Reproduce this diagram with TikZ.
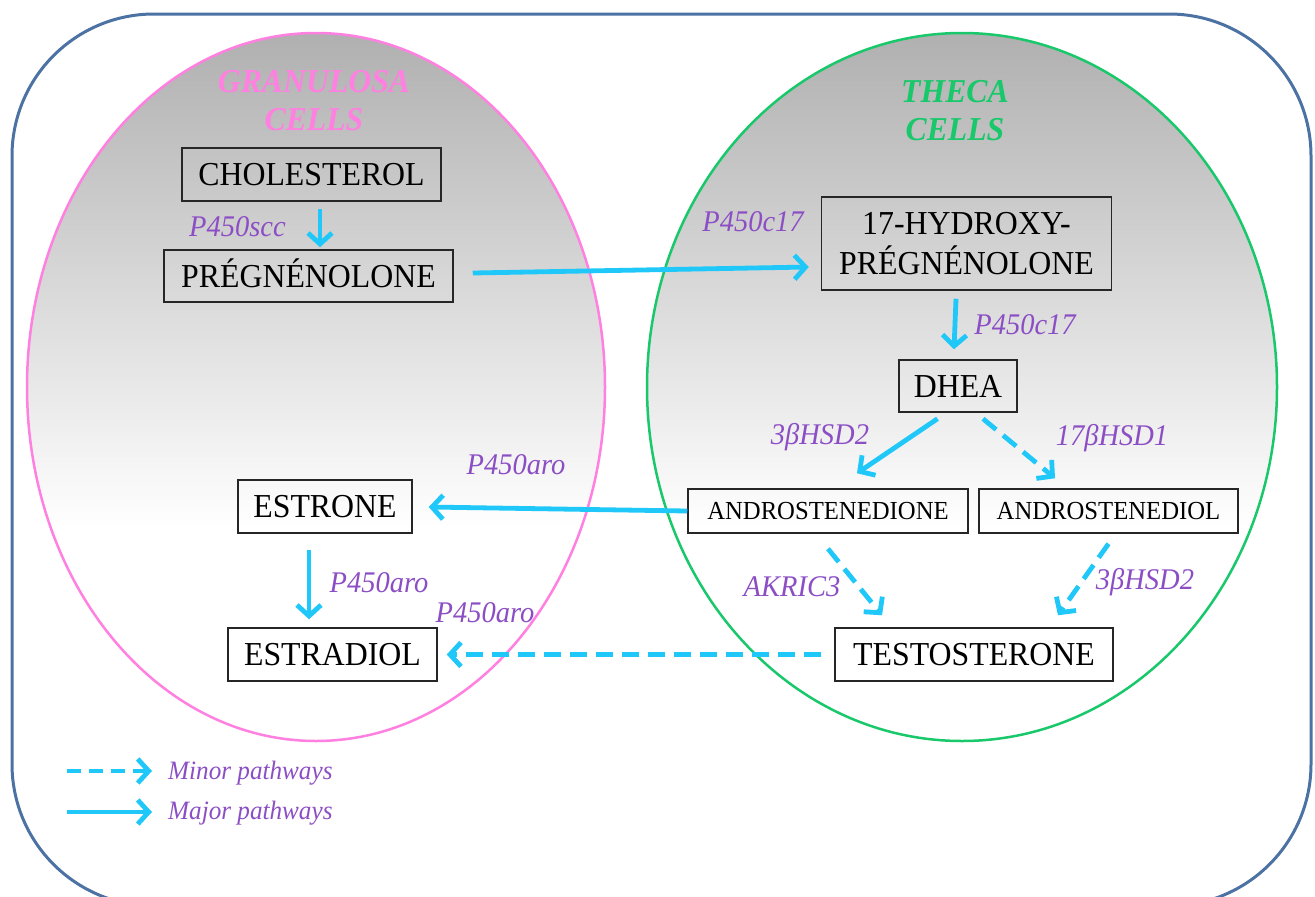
\documentclass[tikz,border=0pt]{standalone}
\usepackage{fontspec}
\setmainfont{Liberation Serif}[FakeStretch=0.95]
\usetikzlibrary{arrows.meta,calc}
\definecolor{cyanarr}{RGB}{31,200,248}
\definecolor{purplab}{RGB}{140,78,196}
\definecolor{pinkcell}{RGB}{255,128,224}
\definecolor{greencell}{RGB}{24,200,106}
\definecolor{framec}{RGB}{76,114,164}
\pgfdeclareverticalshading{cellgrad}{100bp}{rgb(0bp)=(1,1,1); rgb(40bp)=(1,1,1); rgb(75bp)=(0.69,0.69,0.69); rgb(100bp)=(0.69,0.69,0.69)}
\newcommand\BoxFnt{\fontsize{33.5}{40}\selectfont}
\newcommand\SmallBoxFnt{\fontsize{26}{30}\selectfont}
\newcommand\LabFnt{\fontsize{30}{34}\selectfont\itshape}
\newcommand\TitleFnt{\fontsize{33.4}{38}\selectfont\bfseries\itshape}
\newcommand\LegFnt{\fontsize{26.5}{30}\selectfont\itshape}
\begin{document}
\begin{tikzpicture}[x=1pt,y=-1pt,
  bigbox/.style={draw=black!85, line width=1.5pt, inner sep=0pt, font=\BoxFnt, text height=22pt, text depth=0pt},
  smallbox/.style={draw=black!85, line width=1.5pt, inner sep=0pt, font=\SmallBoxFnt, text height=17pt, text depth=0pt},
  lab/.style={text=purplab, font=\LabFnt, inner sep=0pt},
  major/.style={draw=cyanarr, line width=4.8pt, -{Straight Barb[length=11pt,width=24pt]}},
  minor/.style={major, dash pattern=on 17pt off 9pt},
  title/.style={font=\TitleFnt, align=center, inner sep=0pt}]
\clip (0,0) rectangle (1315,897);
% cells
\shade[shading=cellgrad] (316,387) ellipse [x radius=289pt, y radius=354pt];
\draw[pinkcell, line width=2.5pt] (316,387) ellipse [x radius=289pt, y radius=354pt];
\shade[shading=cellgrad] (962,387) ellipse [x radius=315pt, y radius=354pt];
\draw[greencell, line width=2.5pt] (962,387) ellipse [x radius=315pt, y radius=354pt];
% frame
\draw[framec, line width=3pt, rounded corners=142pt] (12,14) rectangle (1311,906);
% titles
\node[title, text=pinkcell] (tgran) at (314,101) {GRANULOSA\\CELLS};
\node[title, text=greencell] (ttheca) at (955,111) {THECA\\CELLS};
% boxes
\node[bigbox, minimum width=259pt, minimum height=53pt] (chol) at (311.5,174.5) {CHOLESTEROL};
\node[bigbox, minimum width=289pt, minimum height=52pt] (preg) at (308.5,276) {PRÉGNÉNOLONE};
\node[draw=black!85, line width=1.5pt, inner sep=0pt, font=\BoxFnt, align=center, minimum width=290pt, minimum height=93pt] (hyd) at (966.5,243.5) {17-HYDROXY-\\PRÉGNÉNOLONE};
\node[bigbox, minimum width=118pt, minimum height=52pt] (dhea) at (958,386) {DHEA};
\node[smallbox, minimum width=280pt, minimum height=44pt] (dione) at (828,511) {ANDROSTENEDIONE};
\node[smallbox, minimum width=259pt, minimum height=44pt] (diol) at (1108.5,511) {ANDROSTENEDIOL};
\node[bigbox, minimum width=278pt, minimum height=53pt] (testo) at (974,654.5) {TESTOSTERONE};
\node[bigbox, minimum width=174pt, minimum height=53pt] (estrone) at (325,506.5) {ESTRONE};
\node[bigbox, minimum width=209pt, minimum height=53pt] (estradiol) at (332.5,654.5) {ESTRADIOL};
% arrows
\draw[major] ($(chol.south)+(8.5,7)$) -- ($(preg.north)+(11.5,-2)$);
\draw[major] ($(preg.east)+(19,-3)$) -- ($(hyd.west)+(-12,23.5)$);
\draw[major] ($(hyd.south)+(-10.5,8)$) -- ($(dhea.north)+(-4,-10)$);
\draw[major] ($(dhea.south)+(-20.5,6)$) -- ($(dione.north)+(29,-15)$);
\draw[minor] ($(dhea.south)+(25,6)$) -- ($(diol.north)+(-53.5,-10)$);
\draw[major] (dione.west) -- ($(estrone.east)+(16,0.5)$);
\draw[major] ($(estrone.south)+(-16,16)$) -- ($(estradiol.north)+(-23.5,-8)$);
\draw[minor] ($(testo.west)+(-13,0)$) -- ($(estradiol.east)+(9,0)$);
\draw[minor] ($(dione.south)+(0,15)$) -- ($(testo.north)+(-92,-12)$);
\draw[minor] ($(diol.south)+(0,10)$) -- ($(testo.north)+(84,-12)$);
% labels
\node[lab] (l1) at (237.5,227) {P450scc};
\node[lab] (l2) at (753,222) {P450c17};
\node[lab] (l3) at (1025,325) {P450c17};
\node[lab] (l4) at (820,437) {3βHSD2};
\node[lab] (l5) at (1112,438) {17βHSD1};
\node[lab] (l6) at (792,587) {AKRIC3};
\node[lab] (l7) at (1145,582) {3βHSD2};
\node[lab] (l8) at (516,465) {P450aro};
\node[lab] (l9) at (379,583) {P450aro};
\node[lab] (l10) at (485,613) {P450aro};
% legend
\coordinate (m1s) at (67,771);
\coordinate (m1e) at (152,771);
\coordinate (m2s) at (67,812);
\coordinate (m2e) at (152,812);
\draw[minor, dash pattern=on 14pt off 8pt] (m1s) -- (m1e);
\draw[major] (m2s) -- (m2e);
\node[text=purplab, font=\LegFnt, anchor=west, inner sep=0pt] (leg1) at (168,773) {Minor pathways};
\node[text=purplab, font=\LegFnt, anchor=west, inner sep=0pt] (leg2) at (168,813) {Major pathways};
\end{tikzpicture}
\end{document}
